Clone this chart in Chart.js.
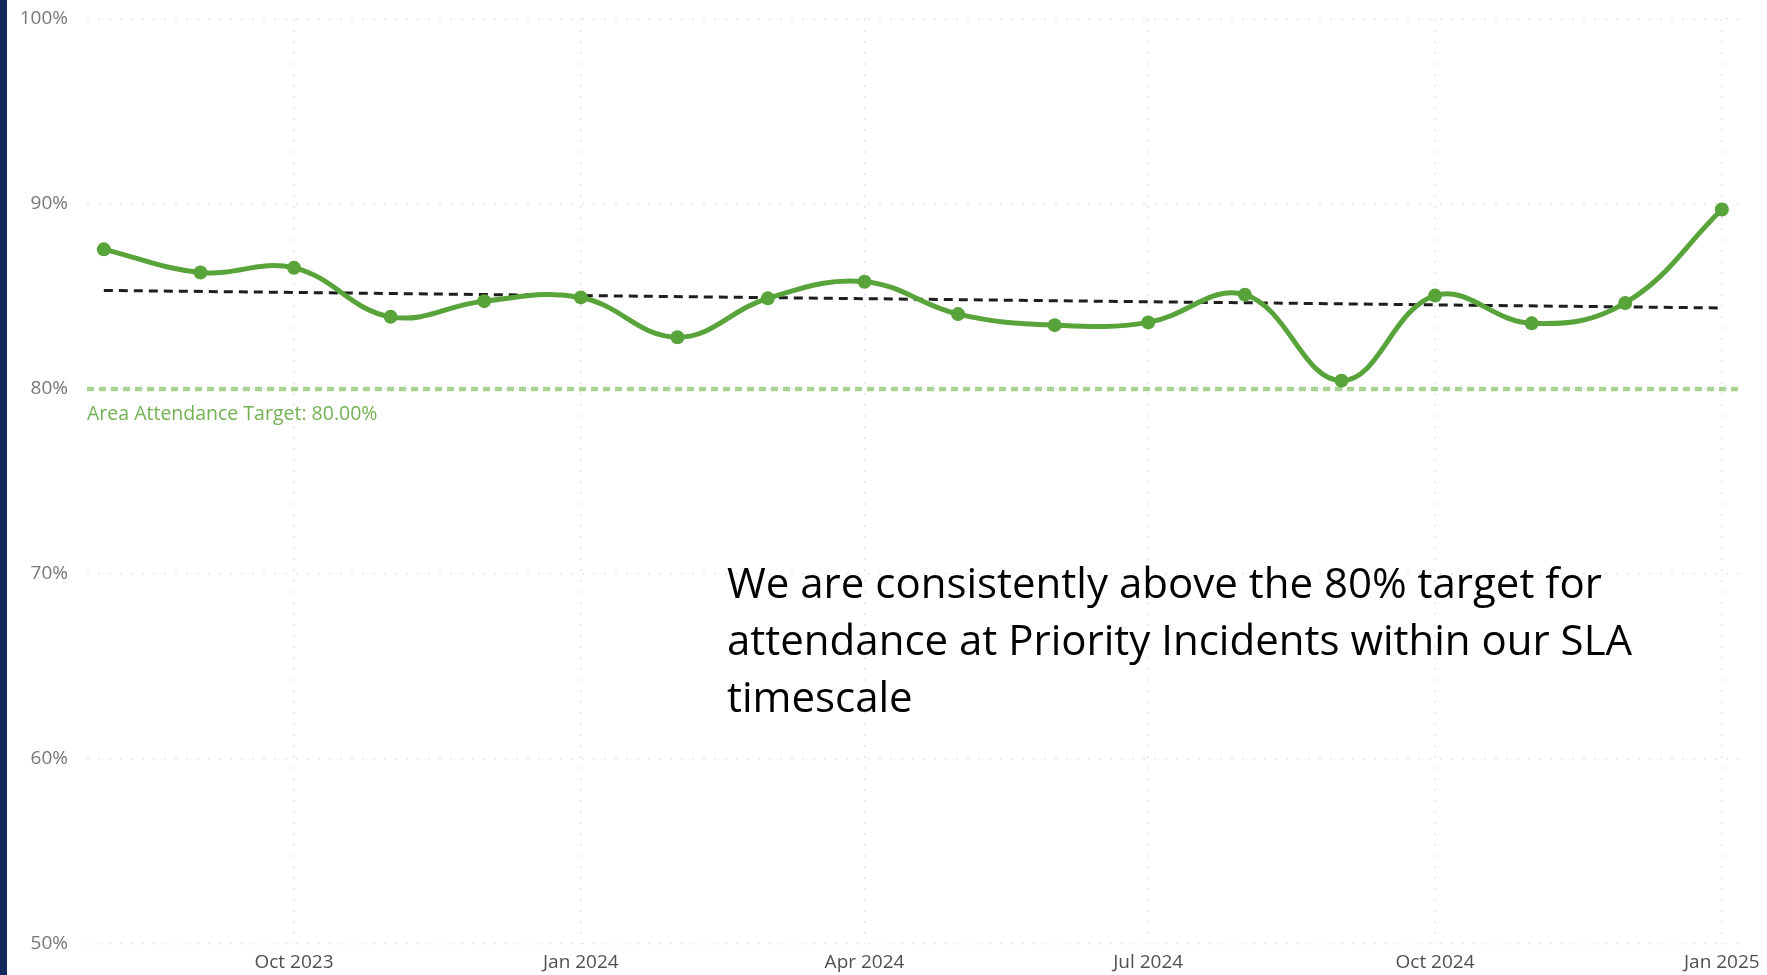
<!DOCTYPE html>
<html>
<head>
<meta charset="utf-8">
<script src="https://cdn.jsdelivr.net/npm/chart.js@4/dist/chart.umd.min.js"></script>
<style>
    html, body { margin: 0; padding: 0; background: #fff; overflow: hidden; }
    #sideBar { position: absolute; left: 0; top: 0; width: 7px; height: 975px; background: #13295b; }
    #chartWrap { position: absolute; left: 7px; top: 0; width: 1760px; height: 975px; }
    #note {
        position: absolute; left: 727px; top: 553px;
        font-family: "Open Sans", sans-serif; font-size: 42px; line-height: 57px;
        color: #000; white-space: nowrap;
    }
</style>
</head>
<body>
<div id="sideBar"></div>
<div id="chartWrap"><canvas id="attendanceChart" width="1760" height="975"></canvas></div>
<div id="note">We are consistently above the 80% target for<br>attendance at Priority Incidents within our SLA<br>timescale</div>

<script>
// ========== 数据 ==========
const months = ['2023-08', '2023-09', '2023-10', '2023-11', '2023-12', '2024-01',
                '2024-02', '2024-03', '2024-04', '2024-05', '2024-06', '2024-07',
                '2024-08', '2024-09', '2024-10', '2024-11', '2024-12', '2025-01'];
const attendance = [87.55, 86.3, 86.55, 83.9, 84.75, 84.95,
                    82.8, 84.9, 85.8, 84.05, 83.45, 83.6,
                    85.1, 80.45, 85.05, 83.55, 84.65, 89.7];
const trendStart = 85.33;
const trendEnd = 84.38;
const target = 80;
const targetLabel = 'Area Attendance Target: 80.00%';
const tickMonths = ['2023-10', '2024-01', '2024-04', '2024-07', '2024-10', '2025-01'];
const tickLabels = ['Oct 2023', 'Jan 2024', 'Apr 2024', 'Jul 2024', 'Oct 2024', 'Jan 2025'];
const yTicks = [50, 60, 70, 80, 90, 100];

// month string -> day number
function monthToDay(m) {
    const [y, mo] = m.split('-').map(Number);
    return Date.UTC(y, mo - 1, 1) / 86400000;
}

const xs = months.map(monthToDay);
const xMin = xs[0] - 5.4;
const xMax = xs[xs.length - 1] + 6.1;
const tickDays = tickMonths.map(monthToDay);

const lineGreen = '#58a33a';

// ========== 目标线标签 ==========
const targetLabelPlugin = {
    id: 'targetLabel',
    afterDatasetsDraw(chart) {
        const ctx = chart.ctx;
        const yPos = chart.scales.y.getPixelForValue(target);
        ctx.save();
        ctx.fillStyle = '#72b152';
        ctx.font = '19.5px "Open Sans", sans-serif';
        ctx.textBaseline = 'middle';
        ctx.textAlign = 'left';
        ctx.fillText(targetLabel, chart.chartArea.left, yPos + 25);
        ctx.restore();
    }
};

new Chart(document.getElementById('attendanceChart').getContext('2d'), {
    type: 'line',
    data: {
        datasets: [
            {
                label: 'Attendance',
                data: months.map((m, i) => ({ x: xs[i], y: attendance[i] })),
                borderColor: lineGreen,
                backgroundColor: lineGreen,
                borderWidth: 5,
                tension: 0.4,
                pointRadius: 7,
                pointBackgroundColor: lineGreen,
                pointBorderWidth: 0,
                order: 1
            },
            {
                label: 'Trend',
                data: [{ x: xs[0], y: trendStart }, { x: xs[xs.length - 1], y: trendEnd }],
                borderColor: '#1e1e1e',
                borderWidth: 3,
                borderDash: [9, 6],
                pointRadius: 0,
                order: 2
            },
            {
                label: 'Target',
                data: [{ x: xMin, y: target }, { x: xMax, y: target }],
                borderColor: '#a9d393',
                borderWidth: 4.5,
                borderDash: [7, 5],
                pointRadius: 0,
                order: 3
            }
        ]
    },
    options: {
        responsive: false,
        animation: false,
        layout: { padding: { top: 19, right: 26, left: 0, bottom: 0 } },
        scales: {
            x: {
                type: 'linear',
                min: xMin,
                max: xMax,
                afterBuildTicks: axis => { axis.ticks = tickDays.map(v => ({ value: v })); },
                afterFit: axis => { axis.height = 31; },
                ticks: {
                    autoSkip: false,
                    maxRotation: 0,
                    padding: 7,
                    color: '#505050',
                    font: { family: '"Open Sans", sans-serif', size: 19 },
                    callback: v => tickLabels[tickDays.indexOf(v)]
                },
                grid: { color: '#e4e6ec', lineWidth: 1.5, drawTicks: false },
                border: { display: false, dash: [2, 9] }
            },
            y: {
                min: 50,
                max: 100,
                afterBuildTicks: axis => { axis.ticks = yTicks.map(v => ({ value: v })); },
                afterFit: axis => {
                    axis.width = 80;
                    axis.paddingTop = 0;
                    axis.paddingBottom = 0;
                },
                ticks: {
                    padding: 19,
                    color: '#777777',
                    font: { family: '"Open Sans", sans-serif', size: 19 },
                    callback: v => v + '%'
                },
                grid: { color: '#e4e6ec', lineWidth: 1.5, drawTicks: false },
                border: { display: false, dash: [2, 9] }
            }
        },
        plugins: {
            legend: { display: false },
            tooltip: { enabled: false }
        }
    },
    plugins: [targetLabelPlugin]
});
</script>
</body>
</html>
